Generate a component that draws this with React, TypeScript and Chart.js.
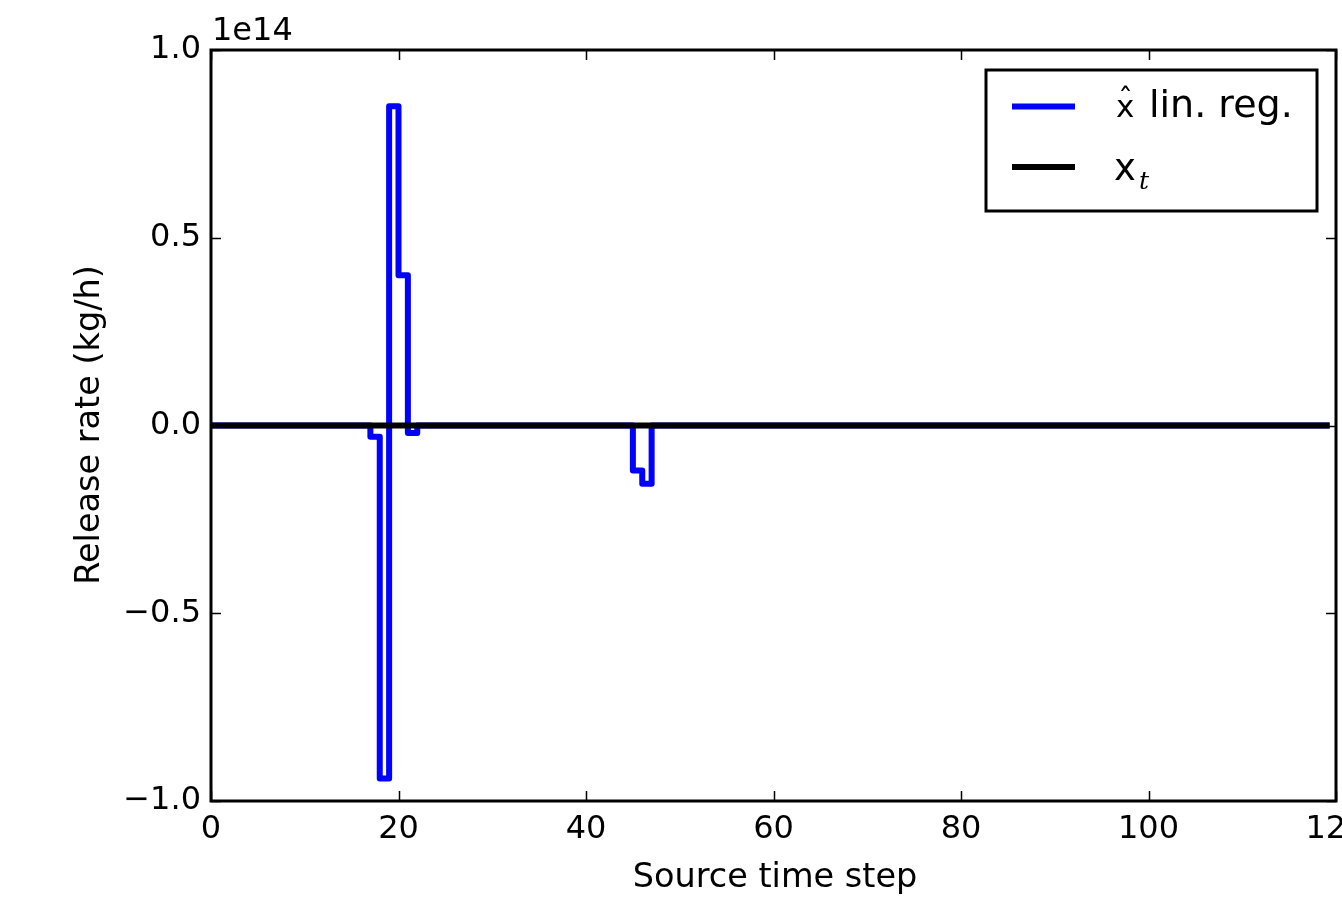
import { useEffect, useRef } from "react";
import { Chart, registerables } from "chart.js";

Chart.register(...registerables);

// Source time steps 0..119
const timeSteps: number[] = Array.from({ length: 120 }, (_, i) => i);

// Estimated release rate from linear regression (units of 1e14 kg/h)
const linRegValues: number[] = [
  0, 0, 0, 0, 0, 0, 0, 0, 0, 0,
  0, 0, 0, 0, 0, 0, 0, -0.03, -0.94, 0.85,
  0.40, -0.02, 0, 0, 0, 0, 0, 0, 0, 0,
  0, 0, 0, 0, 0, 0, 0, 0, 0, 0,
  0, 0, 0, 0, 0, -0.12, -0.155, 0, 0, 0,
  0, 0, 0, 0, 0, 0, 0, 0, 0, 0,
  0, 0, 0, 0, 0, 0, 0, 0, 0, 0,
  0, 0, 0, 0, 0, 0, 0, 0, 0, 0,
  0, 0, 0, 0, 0, 0, 0, 0, 0, 0,
  0, 0, 0, 0, 0, 0, 0, 0, 0, 0,
  0, 0, 0, 0, 0, 0, 0, 0, 0, 0,
  0, 0, 0, 0, 0, 0, 0, 0, 0, 0,
];

// True release rate x_t (units of 1e14 kg/h)
const trueValues: number[] = [
  0, 0, 0, 0, 0, 0, 0, 0, 0, 0,
  0, 0, 0, 0, 0, 0, 0, 0, 0, 0,
  0, 0, 0, 0, 0, 0, 0, 0, 0, 0,
  0, 0, 0, 0, 0, 0, 0, 0, 0, 0,
  0, 0, 0, 0, 0, 0, 0, 0, 0, 0,
  0, 0, 0, 0, 0, 0, 0, 0, 0, 0,
  0, 0, 0, 0, 0, 0, 0, 0, 0, 0,
  0, 0, 0, 0, 0, 0, 0, 0, 0, 0,
  0, 0, 0, 0, 0, 0, 0, 0, 0, 0,
  0, 0, 0, 0, 0, 0, 0, 0, 0, 0,
  0, 0, 0, 0, 0, 0, 0, 0, 0, 0,
  0, 0, 0, 0, 0, 0, 0, 0, 0, 0,
];

const xTickValues: number[] = [0, 20, 40, 60, 80, 100, 120];
const yTickValues: number[] = [-1.0, -0.5, 0.0, 0.5, 1.0];
const offsetLabel = "1e14";
const xTitle = "Source time step";
const yTitle = "Release rate (kg/h)";
const legendLabel1 = "lin. reg.";

const FONT = "'DejaVu Sans', sans-serif";

const decorPlugin = {
  id: "decor",
  afterDraw(chart: any) {
    const ctx = chart.ctx as CanvasRenderingContext2D;
    const { left, right, top, bottom } = chart.chartArea;
    const xs = chart.scales.x;
    const ys = chart.scales.y;
    ctx.save();
    // ticks (inward on all four sides)
    ctx.strokeStyle = "#000";
    ctx.lineWidth = 1.5;
    const tl = 10;
    ctx.beginPath();
    xTickValues.forEach((v) => {
      const px = Math.round(xs.getPixelForValue(v)) + 0.5;
      ctx.moveTo(px, bottom);
      ctx.lineTo(px, bottom - tl);
      ctx.moveTo(px, top);
      ctx.lineTo(px, top + tl);
    });
    yTickValues.forEach((v) => {
      const py = Math.round(ys.getPixelForValue(v)) + 0.5;
      ctx.moveTo(left, py);
      ctx.lineTo(left + tl, py);
      ctx.moveTo(right, py);
      ctx.lineTo(right - tl, py);
    });
    ctx.stroke();
    // frame
    ctx.lineWidth = 3;
    ctx.strokeRect(left, top, right - left, bottom - top);

    ctx.fillStyle = "#000";
    // offset text
    ctx.font = `32px ${FONT}`;
    ctx.textAlign = "left";
    ctx.textBaseline = "alphabetic";
    ctx.fillText(offsetLabel, left + 1, 40);

    // axis titles
    ctx.font = `33.5px ${FONT}`;
    ctx.textAlign = "center";
    ctx.textBaseline = "alphabetic";
    ctx.fillText(xTitle, 775, 887);
    ctx.save();
    ctx.translate(99, 425);
    ctx.rotate(-Math.PI / 2);
    ctx.fillText(yTitle, 0, 0);
    ctx.restore();

    // legend
    const lx = 986, ly = 70, lw = 331, lh = 141;
    ctx.fillStyle = "#fff";
    ctx.fillRect(lx, ly, lw, lh);
    ctx.lineWidth = 3;
    ctx.strokeStyle = "#000";
    ctx.strokeRect(lx, ly, lw, lh);

    ctx.lineWidth = 6;
    ctx.lineCap = "butt";
    ctx.strokeStyle = "#0000ff";
    ctx.beginPath();
    ctx.moveTo(1012, 106.5);
    ctx.lineTo(1075, 106.5);
    ctx.stroke();
    ctx.strokeStyle = "#000";
    ctx.beginPath();
    ctx.moveTo(1012, 167);
    ctx.lineTo(1075, 167);
    ctx.stroke();

    ctx.fillStyle = "#000";
    ctx.textAlign = "left";
    ctx.textBaseline = "alphabetic";
    // x-hat
    ctx.font = `31px ${FONT}`;
    ctx.fillText("x", 1116, 117);
    ctx.textAlign = "center";
    ctx.font = `30px ${FONT}`;
    ctx.fillText("\u02C6", 1125.5, 110);
    ctx.textAlign = "left";
    ctx.font = `38px ${FONT}`;
    ctx.fillText(legendLabel1, 1149, 117);
    // x_t
    ctx.font = `37px ${FONT}`;
    ctx.fillText("x", 1114, 180);
    ctx.font = `italic 25px 'DejaVu Serif', serif`;
    ctx.fillText("t", 1139, 189);
    ctx.restore();
  },
};

export default function App() {
  const canvasRef = useRef<HTMLCanvasElement | null>(null);

  useEffect(() => {
    if (!canvasRef.current) return;
    const chart = new Chart(canvasRef.current, {
      type: "line",
      data: {
        datasets: [
          {
            label: "x_t",
            data: timeSteps.map((t, i) => ({ x: t, y: trueValues[i] })),
            borderColor: "#000000",
            borderWidth: 6,
            pointRadius: 0,
            stepped: "before",
            fill: false,
            borderJoinStyle: "round",
            borderCapStyle: "square",
            order: 0,
          },
          {
            label: "x̂ lin. reg.",
            data: timeSteps.map((t, i) => ({ x: t, y: linRegValues[i] })),
            borderColor: "#0000ff",
            borderWidth: 6,
            pointRadius: 0,
            stepped: "before",
            fill: false,
            borderJoinStyle: "round",
            borderCapStyle: "square",
            order: 1,
          },
        ],
      },
      options: {
        responsive: false,
        animation: false,
        events: [],
        layout: { padding: { top: 50, right: 6, left: 0, bottom: 0 } },
        plugins: {
          legend: { display: false },
          tooltip: { enabled: false },
          title: { display: false },
        },
        scales: {
          x: {
            type: "linear",
            min: 0,
            max: 120,
            grid: { display: false, drawTicks: false },
            border: { display: false },
            afterBuildTicks: (scale: any) => {
              scale.ticks = xTickValues.map((v) => ({ value: v }));
            },
            ticks: {
              color: "#000",
              font: { family: "DejaVu Sans", size: 32 },
              padding: 9,
              maxRotation: 0,
              autoSkip: false,
              callback: (v: any) => String(v),
            },
            afterFit: (scale: any) => {
              scale.height = 104;
              scale.paddingLeft = 0;
              scale.paddingRight = 0;
            },
          },
          y: {
            type: "linear",
            min: -1,
            max: 1,
            grid: { display: false, drawTicks: false },
            border: { display: false },
            afterBuildTicks: (scale: any) => {
              scale.ticks = yTickValues.map((v) => ({ value: v }));
            },
            ticks: {
              color: "#000",
              font: { family: "DejaVu Sans", size: 32 },
              padding: 10,
              autoSkip: false,
              callback: (v: any) => Number(v).toFixed(1).replace("-", "\u2212"),
            },
            afterFit: (scale: any) => {
              scale.width = 211;
              scale.paddingTop = 0;
              scale.paddingBottom = 0;
            },
          },
        },
      },
      plugins: [decorPlugin],
    });
    return () => chart.destroy();
  }, []);

  return (
    <div style={{ position: "fixed", left: 0, top: 0, width: 1342, height: 905, background: "#fff" }}>
      <canvas ref={canvasRef} width={1342} height={905} style={{ width: 1342, height: 905 }} />
    </div>
  );
}
